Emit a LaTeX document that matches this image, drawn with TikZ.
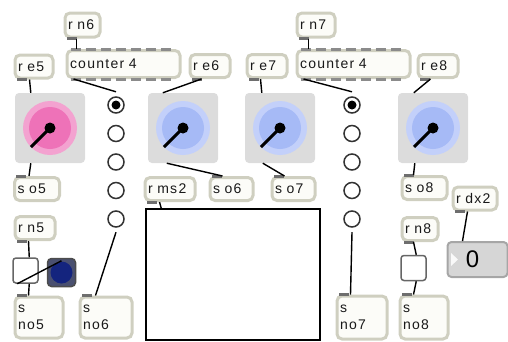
\documentclass[tikz,border=0pt]{standalone}
\usepackage{fontspec}
\setmainfont{Liberation Sans}[LetterSpace=9]
\usepackage{tikz}

\definecolor{boxedge}{HTML}{CFCFC0}
\definecolor{boxfill}{HTML}{FCFCF8}
\definecolor{tabgray}{HTML}{6E6E6E}
\definecolor{knobgray}{HTML}{DCDCDC}
\definecolor{pinkout}{HTML}{F3A2D0}
\definecolor{pinkin}{HTML}{EE72B8}
\definecolor{blueout}{HTML}{C3D0FA}
\definecolor{bluein}{HTML}{A6BAF6}
\definecolor{bangblue}{HTML}{14247E}
\definecolor{bangback}{HTML}{4A5070}
\definecolor{numgray}{HTML}{D6D6D6}

\tikzset{
  obj/.style={draw=boxedge, fill=boxfill, line width=3pt, rounded corners=5pt,
    minimum height=23pt, inner xsep=3pt, inner ysep=0pt, align=left,
    font=\fontsize{14}{17}\selectfont, text=black!90},
  wire/.style={line width=1.4pt, black},
  knobbox/.style={fill=knobgray, rounded corners=4pt, minimum size=70pt, inner sep=0pt},
  togglebox/.style={draw=black!60, fill=white, line width=1.5pt, rounded corners=3pt,
    minimum size=25pt, inner sep=0pt},
  bangbox/.style={draw=black!70, fill=bangback, line width=1.5pt, rounded corners=4pt,
    minimum size=28pt, inner sep=0pt},
  radiocirc/.style={draw=black!80, fill=white, line width=1.5pt},
  radiogroup/.style={minimum width=20pt, minimum height=140pt, inner sep=0pt},
  numbox/.style={draw=black!35, fill=numgray, line width=2pt, rounded corners=4pt,
    minimum width=60pt, minimum height=35pt, inner sep=0pt},
  lcdbox/.style={draw=black, fill=white, line width=1.5pt,
    minimum width=174pt, minimum height=131pt, inner sep=0pt}
}

\begin{document}
\begin{tikzpicture}[x=1pt,y=-1pt]
\useasboundingbox (0,0) rectangle (508,341);

% top row of receive objects
\node[obj, text width=29pt, minimum height=24pt] (rn6) at (82.5,25) {r n6};
\node[obj, text width=32pt, minimum height=24pt] (rn7) at (316,25) {r n7};
\node[obj, text width=107pt, minimum height=27pt] (c1) at (123.5,64) {counter 4};
\node[obj, text width=107pt, minimum height=27pt] (c2) at (353.5,64) {counter 4};
\node[obj, text width=32pt] (re5) at (34,66.5) {r e5};
\node[obj, text width=34pt] (re6) at (210,66) {r e6};
\node[obj, text width=34pt] (re7) at (267,66) {r e7};
\node[obj, text width=34pt] (re8) at (438,66) {r e8};

% counters: inlets and outlets along the edges
\foreach \c in {c1,c2} {
  \draw[tabgray!80, line width=3pt, dash pattern=on 10pt off 5pt]
    ([xshift=5pt]\c.north west) -- ([xshift=-10pt]\c.north east);
  \draw[tabgray!80, line width=3pt, dash pattern=on 10pt off 5pt]
    ([xshift=5pt]\c.south west) -- ([xshift=-10pt]\c.south east);
}

% dials
\foreach \k/\x/\o/\i in {k1/50/pinkout/pinkin, k2/183/blueout/bluein,
                         k3/280/blueout/bluein, k4/433/blueout/bluein} {
  \node[knobbox] (\k) at (\x,128) {};
  \fill[\o] (\k.center) circle (27pt);
  \fill[\i] (\k.center) circle (21pt);
  \draw[line width=3pt, black] (\k.center) -- ++(-19pt,-19pt);
  \fill[black] (\k.center) circle (5.5pt);
}

% radio groups
\node[radiogroup] (rg1) at (116,162) {};
\node[radiogroup] (rg2) at (352,162) {};
\foreach \x in {116,352} {
  \foreach \y in {105,133.5,162,190.5,219}
    \draw[radiocirc] (\x,\y) circle (8pt);
  \fill[black] (\x,105) circle (4.5pt);
}

% middle row
\node[obj, text width=39pt] (so5) at (37,189) {s o5};
\node[obj, text width=44pt] (rms2) at (170,189) {r ms2};
\node[obj, text width=37pt] (so6) at (231.5,189) {s o6};
\node[obj, text width=37pt] (so7) at (293.5,189) {s o7};
\node[obj, text width=39pt] (so8) at (424.5,188) {s o8};
\node[obj, text width=38pt] (rdx2) at (475,198.5) {r dx2};
\node[obj, text width=34pt] (rn5) at (35,228) {r n5};
\node[obj, text width=30pt] (rn8) at (420,229) {r n8};

\node[lcdbox] (lcd) at (233,274.5) {};

\node[togglebox] (tg1) at (25.5,270.5) {};
\node[bangbox] (btn) at (61.5,272.5) {};
\fill[bangblue] (btn.center) circle (11pt);
\node[togglebox] (tg2) at (413.5,268) {};

\node[numbox] (num) at (477.5,259.5) {};
\fill[white!85!numgray] ([xshift=4.5pt,yshift=6.5pt]num.west) -- ++(0,-13pt) -- ([xshift=11.5pt]num.west) -- cycle;
\node[font=\fontsize{24}{24}\selectfont] (zero) at ([xshift=-5pt]num.center) {0};

% bottom row of send objects
\node[obj, text width=42pt, minimum height=41pt] (sno5) at (39,317.5) {s\\no5};
\node[obj, text width=46pt, minimum height=41pt] (sno6) at (106,317.5) {s\\no6};
\node[obj, text width=44pt, minimum height=43pt] (sno7) at (362,317.5) {s\\no7};
\node[obj, text width=42pt, minimum height=43pt] (sno8) at (424,317.5) {s\\no8};

% inlets and outlets
\foreach \n in {rn6,rn7,re5,re6,re7,re8,rms2,rdx2,rn5,rn8}
  \fill[tabgray] ([xshift=3pt,yshift=-1.5pt]\n.south west) rectangle +(10pt,3pt);
\foreach \n in {so5,so6,so7,so8,sno5,sno6,sno7,sno8}
  \fill[tabgray] ([xshift=3pt,yshift=-1.5pt]\n.north west) rectangle +(10pt,3pt);

% patch cords
\draw[wire] ([xshift=13pt]rn6.south west) -- ([xshift=11pt]c1.north west);
\draw[wire] ([xshift=13pt]rn7.south west) -- ([xshift=13pt]c2.north west);
\draw[wire] ([xshift=8pt]c1.south west) -- (rg1.north);
\draw[wire] ([xshift=8pt]c2.south west) -- (rg2.north);
\draw[wire] ([xshift=16pt]re5.south west) -- ([xshift=16pt]k1.north west);
\draw[wire] ([xshift=13pt]re6.south west) -- ([xshift=15pt]k2.north west);
\draw[wire] ([xshift=15pt]re7.south west) -- ([xshift=17pt]k3.north west);
\draw[wire] ([xshift=14pt]re8.south west) -- ([xshift=16pt]k4.north west);
\draw[wire] ([xshift=16pt]k1.south west) -- ([xshift=16pt]so5.north west);
\draw[wire] ([xshift=19pt]k2.south west) -- ([xshift=14pt]so6.north west);
\draw[wire] ([xshift=18pt]k3.south west) -- ([xshift=14pt]so7.north west);
\draw[wire] ([xshift=17pt]k4.south west) -- ([xshift=13pt]so8.north west);
\draw[wire] ([xshift=16pt]rms2.south west) -- ([xshift=16pt]lcd.north west);
\draw[wire] ([xshift=15pt]rn5.south west) -- ([xshift=17pt]tg1.north west);
\draw[wire] ([xshift=17pt]tg1.south west) -- ([xshift=15pt]sno5.north west);
\draw[wire] ([xshift=5pt]tg1.south west) -- ([yshift=-3pt]btn.north);
\draw[wire] (rg1.south) -- ([xshift=17pt]sno6.north west);
\draw[wire] (rg2.south) -- ([xshift=15pt]sno7.north west);
\draw[wire] ([xshift=13pt]rn8.south west) -- ([xshift=16pt]tg2.north west);
\draw[wire] ([xshift=16pt]tg2.south west) -- ([xshift=15pt]sno8.north west);
\draw[wire] ([xshift=16pt]rdx2.south west) -- ([xshift=16pt]num.north west);
\end{tikzpicture}
\end{document}
